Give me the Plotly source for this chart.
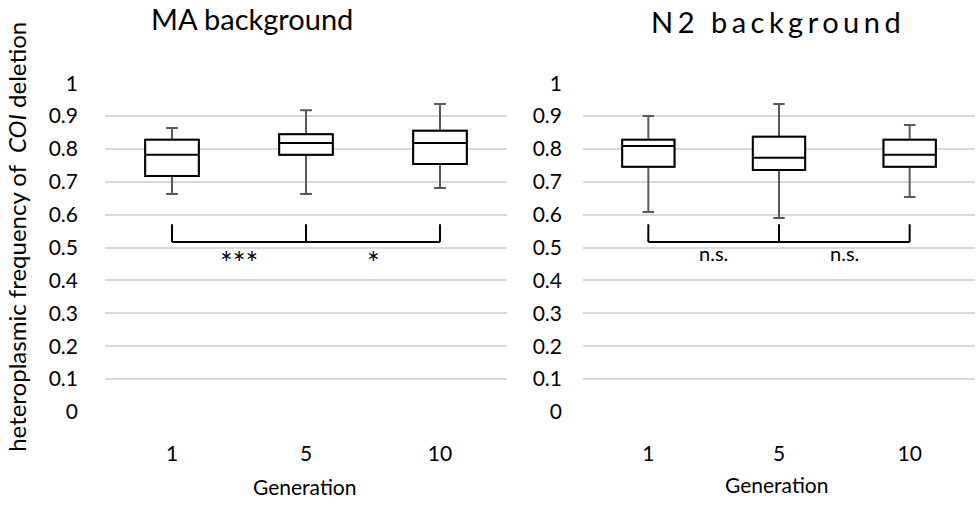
import plotly.graph_objects as go

# Generation categories
generations = ["1", "5", "10"]
positions = [0, 1, 2]

# Box statistics per generation (MA background)
ma_upper = [0.864, 0.918, 0.937]
ma_q3 = [0.828, 0.845, 0.855]
ma_median = [0.782, 0.818, 0.818]
ma_q1 = [0.718, 0.782, 0.754]
ma_lower = [0.663, 0.663, 0.681]

# Box statistics per generation (N2 background)
n2_upper = [0.900, 0.937, 0.873]
n2_q3 = [0.828, 0.837, 0.828]
n2_median = [0.809, 0.773, 0.782]
n2_q1 = [0.746, 0.736, 0.746]
n2_lower = [0.608, 0.590, 0.654]

# Significance brackets: generation 5 compared with 1 and 10
bracket_top = 0.571
bracket_bottom = 0.517
ma_labels = ["***", "*"]
n2_labels = ["n.s.", "n.s."]

y_ticks = [0, 0.1, 0.2, 0.3, 0.4, 0.5, 0.6, 0.7, 0.8, 0.9, 1]
y_ticktext = ["0", "0.1", "0.2", "0.3", "0.4", "0.5", "0.6", "0.7", "0.8", "0.9", "1"]

FONT = "Lato"
W, H = 976, 505

fig = go.Figure()


def add_panel(xa, ya, upper, q3, med, q1, lower):
    # whiskers (grey) with full box
    fig.add_trace(go.Box(
        x=positions, q1=q1, median=med, q3=q3,
        lowerfence=lower, upperfence=upper,
        width=0.4, whiskerwidth=0.22,
        line=dict(color="#595959", width=2), fillcolor="white",
        xaxis=xa, yaxis=ya, hoverinfo="skip", showlegend=False,
    ))
    # box body and median in black on top
    fig.add_trace(go.Box(
        x=positions, q1=q1, median=med, q3=q3,
        lowerfence=q1, upperfence=q3,
        width=0.4, whiskerwidth=0,
        line=dict(color="black", width=2), fillcolor="white",
        xaxis=xa, yaxis=ya, hoverinfo="skip", showlegend=False,
    ))


add_panel("x", "y", ma_upper, ma_q3, ma_median, ma_q1, ma_lower)
add_panel("x2", "y2", n2_upper, n2_q3, n2_median, n2_q1, n2_lower)


def add_bracket(xref, yref, labels, size, yshift):
    line = dict(color="black", width=2)
    fig.add_shape(type="line", xref=xref, yref=yref, x0=positions[0], x1=positions[2],
                  y0=bracket_bottom, y1=bracket_bottom, line=line)
    for p in positions:
        fig.add_shape(type="line", xref=xref, yref=yref, x0=p, x1=p,
                      y0=bracket_bottom, y1=bracket_top, line=line)
    for i, lab in enumerate(labels):
        fig.add_annotation(xref=xref, yref=yref, x=(positions[i] + positions[i + 1]) / 2,
                           y=bracket_bottom, yanchor="top", yshift=yshift, text=lab,
                           showarrow=False, font=dict(family=FONT, size=size, color="black"))


add_bracket("x", "y", ma_labels, 30, 0)
add_bracket("x2", "y2", n2_labels, 20, 3)

y_dom = [1 - 419.5 / H, 1 - 73 / H]
axis_common = dict(showline=False, zeroline=False, ticks="",
                   tickfont=dict(family=FONT, size=21, color="black"))
xcommon = dict(axis_common, range=[-0.5, 2.5], tickvals=positions, ticktext=generations,
               showgrid=False, ticklabelstandoff=26)
ycommon = dict(axis_common, range=[-0.002, 1.002], tickvals=y_ticks, ticktext=y_ticktext,
               showgrid=True, gridcolor="#d9d9d9", gridwidth=1.5, domain=y_dom)

fig.update_layout(
    width=W, height=H,
    margin=dict(l=0, r=0, t=0, b=0),
    paper_bgcolor="white", plot_bgcolor="white",
    boxmode="overlay",
    xaxis=dict(xcommon, domain=[105 / W, 507 / W], anchor="y"),
    yaxis=dict(ycommon, anchor="x", ticklabelstandoff=26),
    xaxis2=dict(xcommon, domain=[583 / W, 975 / W], anchor="y2"),
    yaxis2=dict(ycommon, anchor="x2", ticklabelstandoff=20),
    font=dict(family=FONT, color="black"),
)

# Panel titles
fig.add_annotation(xref="paper", yref="paper", x=252 / W, y=1 - 6 / H, text="MA background",
                   showarrow=False, font=dict(family=FONT, size=29, color="black"),
                   xanchor="center", yanchor="middle")
fig.add_annotation(xref="paper", yref="paper", x=778 / W, y=1 - 9 / H,
                   text='<span style="letter-spacing:4.5px">N2 background</span>',
                   showarrow=False, font=dict(family=FONT, size=29, color="black"),
                   xanchor="center", yanchor="middle")

# Axis titles
fig.add_annotation(xref="paper", yref="paper", x=304 / W, y=1 - 497 / H, text="Generation",
                   showarrow=False, font=dict(family=FONT, size=21, color="black"),
                   xanchor="center", yanchor="middle")
fig.add_annotation(xref="paper", yref="paper", x=776 / W, y=1 - 495 / H, text="Generation",
                   showarrow=False, font=dict(family=FONT, size=21, color="black"),
                   xanchor="center", yanchor="middle")
fig.add_annotation(xref="paper", yref="paper", x=17 / W, y=1 - 235 / H,
                   text="heteroplasmic frequency of  <i>COI</i> deletion", textangle=-90,
                   showarrow=False, font=dict(family=FONT, size=24, color="black"),
                   xanchor="center", yanchor="middle")

fig.write_html("out.html")
